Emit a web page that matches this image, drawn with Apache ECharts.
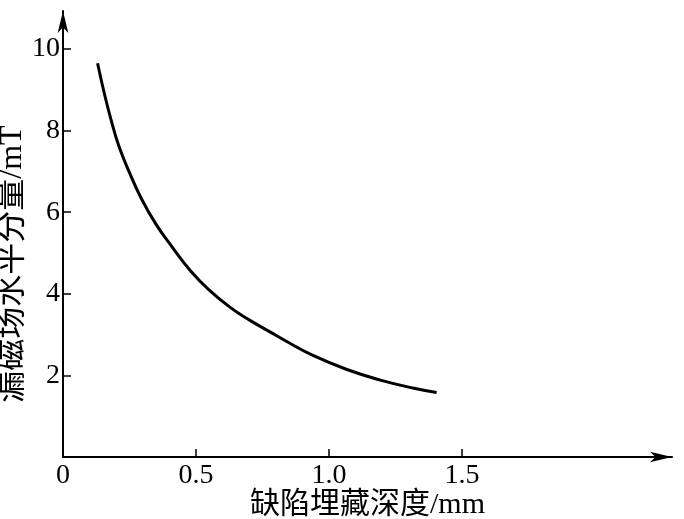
<!DOCTYPE html>
<html>
<head>
<meta charset="utf-8">
<script src="https://cdn.jsdelivr.net/npm/echarts@6/dist/echarts.min.js"></script>
<style>html,body{margin:0;padding:0;background:#fff;}#c{width:684px;height:519px;}</style>
</head>
<body>
<div id="c"></div>
<script>
const depth = [0.13, 0.155, 0.18, 0.21, 0.25, 0.295, 0.35, 0.41, 0.48, 0.55, 0.63, 0.70, 0.78, 0.85, 0.94, 1.065, 1.19, 1.315, 1.405];
const field = [9.65, 8.92, 8.28, 7.62, 6.97, 6.33, 5.70, 5.15, 4.56, 4.09, 3.66, 3.36, 3.06, 2.80, 2.49, 2.15, 1.89, 1.69, 1.58];
const xTicks = [0, 0.5, 1.0, 1.5];
const yTicks = [2, 4, 6, 8, 10];
const xName = '缺陷埋藏深度/mm';
const yName = '漏磁场水平分量/mT';

const font = "'Liberation Serif', 'Times New Roman', 'Noto Sans CJK SC', serif";
const chart = echarts.init(document.getElementById('c'), null, {renderer: 'canvas'});
chart.setOption({
  backgroundColor: '#fff',
  animation: false,
  grid: {left: 63, right: 12, top: 11, bottom: 62, containLabel: false, outerBoundsMode: 'none'},
  xAxis: {
    type: 'value', min: 0, max: 2.29,
    name: xName, nameLocation: 'middle', nameGap: 33, nameMoveOverlap: false,
    nameTextStyle: {fontFamily: font, fontSize: 30, color: '#000', verticalAlign: 'top'},
    axisLine: {show: true, onZero: false, symbol: ['none', 'arrow'], symbolSize: [8, 22], lineStyle: {color: '#000', width: 2}},
    axisTick: {show: true, inside: true, length: 8, customValues: xTicks, lineStyle: {color: '#000', width: 1.5}},
    axisLabel: {customValues: xTicks, margin: 5, fontFamily: font, fontSize: 28, color: '#000',
      formatter: v => v === 0 ? '0' : v.toFixed(1)},
    splitLine: {show: false}
  },
  yAxis: {
    type: 'value', min: 0, max: 10.93,
    name: yName, nameLocation: 'middle', nameGap: 34, nameMoveOverlap: false,
    nameTextStyle: {fontFamily: font, fontSize: 32, color: '#000', padding: [0, 60, 0, 0]},
    axisLine: {show: true, onZero: false, symbol: ['none', 'arrow'], symbolSize: [8, 22], lineStyle: {color: '#000', width: 2}},
    axisTick: {show: true, inside: true, length: 8, customValues: yTicks, lineStyle: {color: '#000', width: 1.5}},
    axisLabel: {customValues: yTicks, margin: 3, fontFamily: font, fontSize: 28, color: '#000'},
    splitLine: {show: false}
  },
  series: [{
    type: 'line',
    data: depth.map((d, i) => [d, field[i]]),
    smooth: 0.45,
    showSymbol: false,
    lineStyle: {color: '#000', width: 3}
  }]
});
</script>
</body>
</html>
